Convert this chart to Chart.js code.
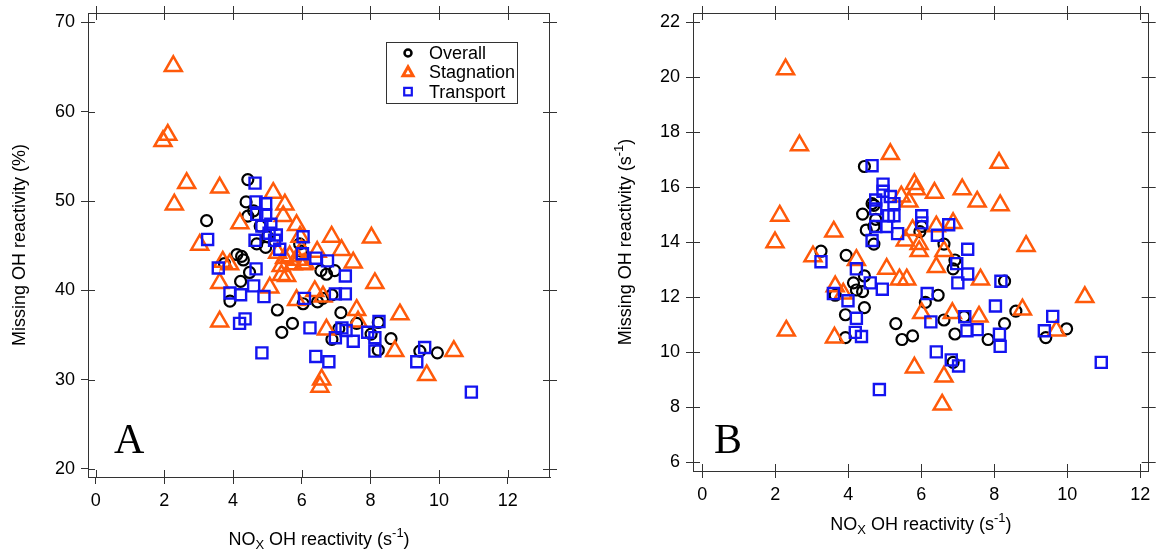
<!DOCTYPE html>
<html>
<head>
<meta charset="utf-8">
<script src="https://cdn.jsdelivr.net/npm/chart.js@4.4.1/dist/chart.umd.min.js"></script>
<style>
  body { margin: 0; background: #fff; width: 1161px; height: 554px; overflow: hidden; position: relative; }
  #chartA { position: absolute; left: 0; top: 0; }
  #chartB { position: absolute; left: 580px; top: 0; }
</style>
</head>
<body>
<canvas id="chartA" width="580" height="554"></canvas>
<canvas id="chartB" width="581" height="554"></canvas>
<script>
// tick labels
const xTicks = [0, 2, 4, 6, 8, 10, 12];
const yTicksA = [20, 30, 40, 50, 60, 70];
const yTicksB = [6, 8, 10, 12, 14, 16, 18, 20, 22];

const seriesNames = ["Overall", "Stagnation", "Transport"];

// axis titles, split in pieces so the sub/superscripts can be drawn smaller
const xTitleParts = [["NO", 0], ["X", 1], [" OH reactivity (s", 0], ["-1", -1], [")", 0]];
const yTitlePartsA = [["Missing OH reactivity (%)", 0]];
const yTitlePartsB = [["Missing OH reactivity (s", 0], ["-1", -1], [")", 0]];

// Panel A - missing OH reactivity (%) vs NOx OH reactivity, [x, y]
const aOverall = [
  [4.43, 52.4], [4.38, 49.9], [4.43, 48.3], [3.23, 47.8], [4.69, 45.2], [4.95, 44.8], [4.11, 44.0],
  [4.30, 43.4], [3.75, 43.0], [4.48, 42.0], [4.22, 41.0], [3.91, 38.8], [5.29, 37.8], [5.42, 35.3],
  [5.73, 36.3], [5.94, 45.2], [5.99, 44.4], [6.56, 42.2], [6.72, 41.8], [6.96, 42.2], [6.46, 38.7],
  [6.61, 39.1], [6.88, 39.5], [7.14, 37.5], [6.88, 34.5], [7.08, 35.7], [7.6, 36.3], [8.23, 36.4],
  [8.23, 33.3], [8.6, 34.6], [8.02, 35.1], [9.44, 33.2], [9.95, 33.0], [4.79, 47.2], [6.04, 38.5],
  [4.6, 48.9], [5.0, 46.0], [4.25, 43.8]
];
const aStagnation = [
  [2.26, 65.1], [2.10, 57.4], [1.96, 56.7], [2.65, 52.0], [2.29, 49.6], [3.61, 51.5], [3.03, 45.1],
  [4.2, 47.5], [3.9, 42.9], [3.61, 40.8], [3.61, 36.5], [5.17, 50.9], [5.51, 49.6], [5.46, 48.3],
  [5.85, 47.3], [5.95, 46.0], [6.87, 46.0], [7.16, 44.5], [7.5, 43.1], [8.03, 45.9], [8.13, 40.8],
  [5.65, 43.8], [5.75, 42.9], [6.04, 42.9], [5.41, 41.7], [5.56, 41.6], [5.07, 40.3], [5.85, 38.9],
  [6.38, 39.9], [6.62, 39.3], [7.6, 37.8], [7.64, 36.5], [6.72, 35.6], [8.86, 37.3], [8.71, 33.2],
  [10.43, 33.2], [9.64, 30.5], [6.58, 30.0], [6.53, 29.2], [5.3, 44.2], [5.5, 43.6], [5.9, 43.4],
  [6.1, 43.0], [6.0, 44.5], [5.4, 42.7], [6.45, 44.3], [3.7, 43.2]
];
const aTransport = [
  [4.64, 52.0], [4.67, 49.9], [4.95, 49.7], [4.69, 48.5], [4.95, 48.4], [4.84, 47.2], [5.1, 47.4],
  [5.05, 46.4], [5.26, 46.2], [5.21, 45.6], [4.64, 45.6], [5.36, 44.6], [3.26, 45.7], [3.57, 42.5],
  [4.67, 42.4], [3.91, 39.7], [4.22, 39.5], [4.19, 36.3], [4.35, 36.8], [4.6, 40.5], [4.9, 39.3],
  [4.84, 33.0], [6.04, 46.0], [6.02, 44.1], [6.41, 43.6], [6.75, 43.3], [7.27, 41.6], [7.27, 39.6],
  [6.98, 39.6], [6.08, 39.1], [6.24, 35.8], [6.41, 32.6], [6.79, 32.0], [6.98, 34.7], [7.17, 35.8],
  [7.29, 35.5], [7.5, 34.3], [7.92, 35.3], [8.13, 34.7], [8.13, 33.2], [8.25, 36.5], [9.35, 32.0],
  [9.58, 33.6], [10.94, 28.6]
];

// Panel B - missing OH reactivity (s-1) vs NOx OH reactivity, [x, y]
const bOverall = [
  [4.44, 16.76], [4.65, 15.41], [4.39, 15.03], [4.49, 14.45], [4.7, 14.58], [4.7, 13.94], [4.7, 15.35],
  [4.75, 14.84], [3.25, 13.68], [3.94, 13.53], [4.14, 12.53], [4.22, 12.27], [4.44, 12.78], [4.39, 12.21],
  [3.64, 12.08], [3.92, 11.37], [4.44, 11.63], [3.92, 10.54], [5.3, 11.05], [5.47, 10.47], [5.76, 10.6],
  [6.11, 11.82], [6.46, 12.08], [6.62, 13.94], [6.92, 13.36], [6.87, 13.04], [6.62, 11.18], [6.92, 10.67],
  [6.87, 9.64], [7.17, 11.3], [7.83, 10.47], [8.28, 11.05], [8.28, 12.59], [8.59, 11.5], [9.41, 10.54],
  [9.98, 10.86], [5.96, 14.39], [6.01, 14.58]
];
const bStagnation = [
  [2.28, 20.29], [2.66, 17.53], [2.12, 14.97], [1.99, 14.0], [2.30, 10.79], [3.03, 13.49], [3.6, 14.39],
  [3.64, 12.4], [3.86, 12.14], [3.62, 10.54], [4.22, 13.36], [5.15, 17.21], [5.05, 13.04], [5.4, 12.65],
  [5.6, 12.65], [5.45, 15.67], [5.66, 15.48], [5.81, 16.12], [5.86, 15.93], [6.36, 15.8], [5.56, 14.07],
  [5.94, 13.94], [5.94, 13.68], [5.81, 9.45], [6.01, 11.43], [6.41, 14.58], [6.62, 13.68], [6.41, 13.1],
  [6.62, 9.12], [6.57, 8.1], [6.85, 11.43], [6.87, 14.7], [7.12, 15.93], [7.53, 15.48], [7.62, 12.65],
  [7.58, 11.3], [8.13, 16.89], [8.16, 15.35], [8.87, 13.87], [8.77, 11.56], [9.7, 10.79], [10.48, 12.01],
  [5.76, 14.45]
];
const bTransport = [
  [4.65, 16.79], [4.95, 16.12], [4.95, 15.86], [4.75, 15.54], [5.15, 15.67], [5.25, 15.41], [4.75, 15.22],
  [5.1, 14.97], [5.25, 14.97], [4.75, 14.58], [5.05, 14.58], [4.65, 14.07], [5.35, 14.32], [6.01, 14.97],
  [6.01, 14.71], [6.44, 14.26], [6.75, 14.64], [7.27, 13.75], [6.97, 13.23], [7.27, 12.85], [7.0, 12.53],
  [8.18, 12.59], [8.03, 11.69], [8.14, 10.66], [8.16, 10.22], [9.6, 11.31], [9.37, 10.79], [10.93, 9.64],
  [7.25, 10.79], [7.53, 10.83], [7.19, 11.3], [6.26, 11.11], [6.16, 12.14], [6.41, 10.02], [6.82, 9.73],
  [7.02, 9.51], [4.85, 8.65], [3.25, 13.3], [3.59, 12.14], [3.99, 11.88], [4.22, 13.04], [4.22, 11.24],
  [4.19, 10.73], [4.36, 10.58], [4.6, 12.53], [4.93, 12.3]
];

const black = "#000000";
const orange = "#ff5a0a";
const blue = "#1414f0";
const axisColor = "#333333";
const fontFamily = "'Liberation Sans', Arial, Helvetica, sans-serif";

function toPoints(arr) {
  return arr.map(p => ({ x: p[0], y: p[1] }));
}

function makeDatasets(overall, stagnation, transport) {
  return [
    {
      label: seriesNames[0], data: toPoints(overall), pointStyle: "circle", pointRadius: 5.5,
      pointBorderWidth: 2.2, borderColor: black, pointBackgroundColor: "rgba(0,0,0,0)", order: 3
    },
    {
      label: seriesNames[1], data: toPoints(stagnation), pointStyle: "triangle", pointRadius: 9.8,
      pointBorderWidth: 2.5, borderColor: orange, pointBackgroundColor: "rgba(0,0,0,0)", order: 2
    },
    {
      label: seriesNames[2], data: toPoints(transport), pointStyle: "rect", pointRadius: 7.8,
      pointBorderWidth: 2.4, borderColor: blue, pointBackgroundColor: "rgba(0,0,0,0)", order: 1
    }
  ];
}

// little marker drawer for the legend box
function legendMarker(ctx, style, x, y, color) {
  ctx.save();
  ctx.strokeStyle = color;
  ctx.beginPath();
  if (style === "circle") {
    ctx.lineWidth = 2.5;
    ctx.arc(x, y, 3.5, 0, Math.PI * 2);
  } else if (style === "triangle") {
    ctx.lineWidth = 3;
    ctx.moveTo(x, y - 5.5);
    ctx.lineTo(x + 5, y + 3.5);
    ctx.lineTo(x - 5, y + 3.5);
    ctx.closePath();
  } else {
    ctx.lineWidth = 2.2;
    ctx.rect(x - 3.8, y - 3.8, 7.6, 7.6);
  }
  ctx.stroke();
  ctx.restore();
}

// text with sub (1) / superscript (-1) pieces, centred on cx, baseline y
function drawRichText(ctx, parts, cx, y, size) {
  const small = Math.round(size * 0.7);
  let total = 0;
  parts.forEach(p => {
    ctx.font = (p[1] ? small : size) + "px " + fontFamily;
    total += ctx.measureText(p[0]).width;
  });
  let x = cx - total / 2;
  ctx.textAlign = "left";
  ctx.textBaseline = "alphabetic";
  parts.forEach(p => {
    ctx.font = (p[1] ? small : size) + "px " + fontFamily;
    const dy = p[1] === 1 ? size * 0.22 : p[1] === -1 ? -size * 0.45 : 0;
    ctx.fillText(p[0], x, y + dy);
    x += ctx.measureText(p[0]).width;
  });
}

// Igor style frame: ticks crossing the axes on all four sides, titles, panel letter, legend box
const igorFrame = {
  id: "igorFrame",
  afterDraw(chart, args, opts) {
    const ctx = chart.ctx;
    const { left, right, top, bottom } = chart.chartArea;
    const xs = chart.scales.x;
    const ys = chart.scales.y;
    const len = 7;
    ctx.save();
    ctx.strokeStyle = axisColor;
    ctx.lineWidth = 1;
    ctx.beginPath();
    ctx.moveTo(left, Math.round(top) + 0.5);
    ctx.lineTo(right, Math.round(top) + 0.5);
    ctx.moveTo(Math.round(right) - 0.5, top);
    ctx.lineTo(Math.round(right) - 0.5, bottom);
    xs.ticks.forEach(t => {
      const px = Math.round(xs.getPixelForValue(t.value)) + 0.5;
      ctx.moveTo(px, bottom);
      ctx.lineTo(px, bottom - len);
      ctx.moveTo(px, top - len);
      ctx.lineTo(px, top + len);
    });
    ys.ticks.forEach(t => {
      const py = Math.round(ys.getPixelForValue(t.value)) + 0.5;
      ctx.moveTo(left, py);
      ctx.lineTo(left + len, py);
      ctx.moveTo(right - len, py);
      ctx.lineTo(right + len, py);
    });
    ctx.stroke();

    // axis titles
    ctx.fillStyle = "#000";
    drawRichText(ctx, opts.xTitle, (left + right) / 2, opts.xTitleY, 18);
    ctx.save();
    ctx.translate(opts.yTitleX, (top + bottom) / 2);
    ctx.rotate(-Math.PI / 2);
    drawRichText(ctx, opts.yTitle, 0, 0, 18);
    ctx.restore();

    // panel letter
    ctx.font = "42px 'Liberation Serif', 'Times New Roman', serif";
    ctx.textAlign = "left";
    ctx.textBaseline = "alphabetic";
    ctx.fillText(opts.letter, opts.letterX, opts.letterY);

    if (opts.legend) {
      const lg = opts.legend;
      ctx.strokeStyle = axisColor;
      ctx.lineWidth = 1;
      ctx.strokeRect(lg.x + 0.5, lg.y + 0.5, lg.w, lg.h);
      ctx.font = "18px " + fontFamily;
      ctx.textBaseline = "middle";
      chart.data.datasets.forEach((ds, i) => {
        const rowY = lg.y + lg.firstRow + i * lg.rowGap;
        legendMarker(ctx, ds.pointStyle, lg.x + lg.markerX, rowY, ds.borderColor);
        ctx.fillStyle = "#000";
        ctx.fillText(ds.label, lg.x + lg.textX, rowY + 1);
      });
    }
    ctx.restore();
  }
};

function makeChart(canvas, datasets, cfg) {
  return new Chart(canvas, {
    type: "scatter",
    data: { datasets: datasets },
    options: {
      responsive: false,
      animation: false,
      layout: { padding: { top: cfg.padTop, right: cfg.padRight, left: 0, bottom: 0 } },
      plugins: {
        legend: { display: false },
        tooltip: { enabled: false },
        igorFrame: cfg.extras
      },
      scales: {
        x: {
          type: "linear",
          min: cfg.xMin,
          max: cfg.xMax,
          afterBuildTicks: scale => { scale.ticks = xTicks.map(v => ({ value: v })); },
          afterFit: scale => {
            scale.height = cfg.xAxisHeight;
            scale.paddingLeft = 0;
            scale.paddingRight = 0;
          },
          grid: { drawOnChartArea: false, drawTicks: true, tickLength: 7, color: axisColor },
          border: { color: axisColor, width: 1 },
          ticks: { color: "#000", font: { size: 18, family: fontFamily }, padding: 6, maxRotation: 0 },
          title: { display: false }
        },
        y: {
          type: "linear",
          min: cfg.yMin,
          max: cfg.yMax,
          afterBuildTicks: scale => { scale.ticks = cfg.yTicks.map(v => ({ value: v })); },
          afterFit: scale => {
            scale.width = cfg.yAxisWidth;
            scale.paddingTop = 0;
            scale.paddingBottom = 0;
          },
          grid: { drawOnChartArea: false, drawTicks: true, tickLength: 7, color: axisColor },
          border: { color: axisColor, width: 1 },
          ticks: { color: "#000", font: { size: 18, family: fontFamily }, padding: 6 },
          title: { display: false }
        }
      }
    },
    plugins: [igorFrame]
  });
}

makeChart(document.getElementById("chartA"), makeDatasets(aOverall, aStagnation, aTransport), {
  padTop: 13, padRight: 30,
  xMin: -0.224, xMax: 13.23, yMin: 19.1, yMax: 71.05,
  yTicks: yTicksA,
  xAxisHeight: 77, yAxisWidth: 88,
  extras: {
    xTitle: xTitleParts, xTitleY: 545,
    yTitle: yTitlePartsA, yTitleX: 25,
    letter: "A", letterX: 114, letterY: 453,
    legend: { x: 386, y: 42, w: 131, h: 61, markerX: 22, textX: 43, firstRow: 11, rowGap: 19.3 }
  }
});

makeChart(document.getElementById("chartB"), makeDatasets(bOverall, bStagnation, bTransport), {
  padTop: 13, padRight: 10,
  xMin: -0.257, xMax: 12.23, yMin: 5.69, yMax: 22.34,
  yTicks: yTicksB,
  xAxisHeight: 83, yAxisWidth: 113,
  extras: {
    xTitle: xTitleParts, xTitleY: 530,
    yTitle: yTitlePartsB, yTitleX: 51,
    letter: "B", letterX: 134, letterY: 453,
    legend: null
  }
});
</script>
</body>
</html>
